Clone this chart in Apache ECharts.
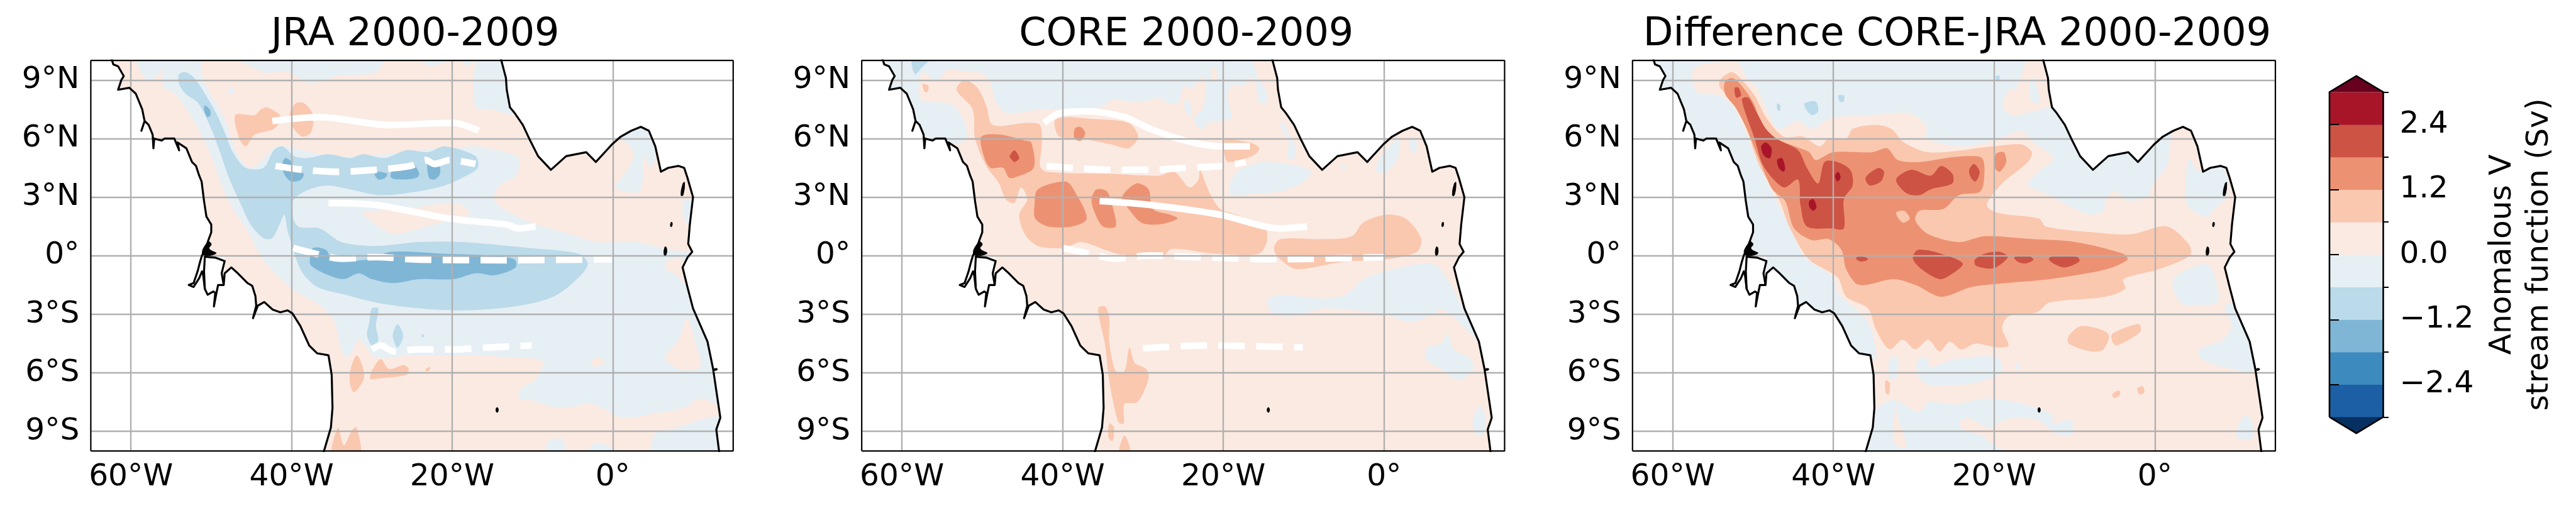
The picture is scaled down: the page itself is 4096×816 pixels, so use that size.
<!DOCTYPE html>
<html><head><meta charset="utf-8">
<style>html,body{margin:0;padding:0;background:#fff}#c{width:4096px;height:816px}</style>
<script src="https://cdn.jsdelivr.net/npm/echarts@6/dist/echarts.min.js"></script>
</head><body><div id="c"></div>
<script>
// Contour bands: value = lower bound of the band. Every shape: [band, lon,lat, lon,lat, ...]
const contourLevels=[-3,-2.4,-1.8,-1.2,-0.6,0,0.6,1.2,1.8,2.4,3];
const bandColors=['#1c5fa5','#3d8abe','#7fb6d6','#bbdaea','#e6eff4','#fbeae2','#fac8af','#ec9273','#cd5344','#a81529'];
const extendColors=['#053061','#67001f'];
const titles=['JRA 2000-2009','CORE 2000-2009','Difference CORE-JRA 2000-2009'];
const lonTicks=[-60,-40,-20,0];
const latTicks=[-9,-6,-3,0,3,6,9];
const cbarMajor=[-2.4,-1.2,0,1.2,2.4];
const cbarMinor=[-3,-1.8,-0.6,0.6,1.8,3];
const basin=[0,-70,-15,20,-15,20,15,-70,15];

const westCoast=[-62.5,10.2,-62.2,9.8,-61.6,9.7,-60.9,9.2,-61.2,9,-61.6,8.5,-60.2,8.6,-59.4,8.3,-58.6,7.5,-58.3,6.9,-58.7,6.4,-58.3,6.9,-57.8,6.7,-57.3,6.2,-57.2,5.5,-57.1,6,-56.2,5.9,-55.8,6,-54.6,6,-54,5.4,-54.2,5.8,-53.1,5.5,-52.4,4.8,-51.9,4.6,-51.5,4.1,-51.2,3.8,-50.9,2.8,-50.6,2,-50,1.6,-50,1.2,-50.4,.75,-50.8,.26,-51.15,.02,-51.4,-.32,-51.7,-.8,-52.2,-1.4,-52.8,-1.5,-52.2,-1.6,-51.5,-1.15,-51.15,-.8,-51,-1,-50.8,-1.7,-50.45,-2,-49.75,-1.83,-49.5,-1.9,-49.67,-2.6,-49.4,-2,-49.15,-1.5,-48.45,-1.5,-48.33,-.9,-47.5,-.6,-46.8,-.86,-45.5,-1.4,-44.9,-1.54,-44.5,-2.07,-44.4,-2.56,-44.8,-3.2,-44.2,-2.56,-43.4,-2.37,-42.35,-2.76,-41.4,-2.9,-40.5,-2.8,-39.9,-2.95,-38.9,-3.6,-37.8,-4.6,-36.8,-5,-35.4,-5.1,-35,-6.1,-34.9,-7.8,-35.1,-8.8,-36.1,-10.2];
const estuaryLine=[-48.45,-1.5,-48.7,-.9,-48.33,-.27,-49.5,-.1,-50.8,-.05,-50.9,-.8,-50.8,-1.7];
const estuaryFill=[-52.8,-1.5,-51.15,.1,-48.33,-.1,-48.33,-2.6,-50,-2.6];
const eastCoast=[-14,10.2,-13.3,9.1,-13.2,8.5,-12.8,7.6,-12.2,7.3,-11.2,6.7,-10.4,6,-9.3,5.1,-7.7,4.4,-5.8,5.1,-3.3,5.3,-2.1,4.8,-.1,5.7,1,6.1,2.3,6.4,3.5,6.6,4.5,6.4,5.3,5.6,6,4.3,6.9,4.5,8.2,4.6,8.9,4.5,9.3,4,10,3,9.6,1.6,9.4,.6,9.9,.2,9.3,-.1,8.7,-.6,9.3,-1.6,10,-2.7,11.8,-4.4,12.5,-5.8,13.4,-8.3,12.9,-8.9,13.3,-10.2];
const westLandClose=[-70,-10.2,-70,10.2];
const eastLandClose=[20,-10.2,20,10.2];
const islands=[[8.5,3.1,8.75,3.7,8.95,3.75,8.75,3.1],[7.2,1.5,7.35,1.5,7.4,1.7,7.25,1.7],[6.4,.05,6.65,.05,6.7,.4,6.5,.45],[-14.5,-7.8,-14.3,-7.8,-14.3,-8,-14.5,-8],[12.6,-5.8,13,-5.78,13,-5.85,12.6,-5.87],[-50.45,.7,-50,.6,-50.25,.36,-49.4,.12,-51.05,.07]];

const jraShapes=[basin,
[-0.6,-59.1,10.2,-51.3,10.2,-51.3,9.4,-50.5,8.6,-49.4,7.8,-48.3,7,-47.5,6,-46.5,5,-45.1,4.5,-43.5,5,-41.9,5.6,-40.3,5.6,-38.6,5.4,-34.9,5.1,-31.6,5.1,-28.4,5.2,-25.7,5.3,-22.5,5.5,-19.8,5.5,-17.1,5.6,-13.3,5.3,-11.7,5,-12,4.1,-14.1,3.6,-14.8,2.9,-13.3,2.3,-9.5,1.6,-5.2,1.1,-2,.7,2.9,.7,7.2,.3,9.6,.2,15.3,-.2,15.3,-7.8,10.9,-7.3,8.8,-7.8,5,-8.1,1.2,-8.3,-2.5,-7.6,-6.8,-7.8,-10.1,-7.4,-11.7,-7.3,-11.4,-6.8,-9.5,-6.3,-8.8,-5.4,-13.3,-5.2,-16.5,-5.1,-21.4,-5.1,-25.2,-5.1,-29.5,-5.2,-31.6,-4.3,-32.7,-5.1,-33.5,-5.1,-34.3,-3.9,-35,-3.1,-37,-2.4,-39.2,-1.9,-41.3,-1.2,-43.5,-.2,-45.7,1.4,-47.3,2.4,-48.9,3.8,-50,5.1,-51.6,6.5,-53.1,7.5,-54.5,8.3,-55.9,8.6,-56.2,9.6,-57,9.1,-58.3,9.1],
[-0.6,-46.7,10.2,-43.5,9.4,-40.3,9.4,-37.8,8.8,-34.3,9.2,-29.5,9.4,-28.7,10.2],
[-0.6,-24.1,10.2,-22.7,9.7,-19.8,10.2],
[-0.6,-19,10.2,-18.1,9.7,-17.1,10.2],
[-0.6,-16.8,10.2,-17.1,7.6,-15.2,7.5,-12.2,7.3,-12.8,9.1,-13.9,10.2],
[-0.6,1,6.2,4.7,6.5,5.3,5.1,4.7,4.5,3.9,5.1,3.4,3.3,.4,3.5,2,4.5,2.6,5.3],
[-0.6,8.8,2.8,9.9,2.8,9.6,1.6,8.8,1.9],
[-0.6,-47.5,8.7,-47.2,8.3,-47.9,8.3],
[-0.6,5,-10.2,5.3,-9.1,8.2,-8.8,10.9,-8.4,14.2,-8.3,14.2,-10.2],
[-0.6,-8.5,-10.2,-7.9,-9.5,-6.3,-9.4,-6,-10.2],
[-0.6,-3.1,-10.2,-2.3,-9.6,.2,-9.9,.2,-10.2],
[0,-31.1,2.2,-29.5,2.3,-24.1,2.5,-20.3,2.7,-18.4,2.5,-17.9,2.1,-20.3,1.8,-24.1,1.4,-27.3,1.1,-29.5,1.6],
[0,9.3,-3.2,10.4,-4.6,10.9,-5.7,8.2,-5.8,6.5,-5.2,8.2,-4.3],
[0,-2,-5.2,-1,-5.4,-2,-5.7,-2.7,-5.5],
[0,6.9,-.2,8.8,-.2,9.3,-1.6,8,-1,6.6,-.7],
[-1.2,-54,9.3,-53.2,9.4,-52.1,9.1,-50.5,8.1,-49.4,7.3,-48.3,6.3,-47.3,5.3,-45.7,4.5,-43.5,4.5,-42.2,5.4,-41.1,5.6,-39.7,5.1,-38.1,5,-35.4,5.2,-32.7,5,-31.1,5.2,-28.4,5,-25.7,5.4,-23,5.3,-20.9,5.6,-17.1,5.1,-16.8,4.5,-18.7,4,-20.9,3.6,-24.1,3.3,-28.9,3.1,-32.7,3.4,-35.4,3.6,-37.8,3.4,-39.7,2.9,-40,2.3,-39.2,1.5,-36.5,1.4,-33.8,.7,-29.5,.5,-24.1,.7,-18.7,.7,-10.6,.4,-4.2,.1,-3.1,-.4,-4.2,-1.1,-7.4,-2.1,-12.2,-2.6,-18.7,-2.8,-24.1,-2.7,-29.5,-2.4,-33.3,-2,-36.8,-1.6,-38.6,-.9,-39.5,-.1,-40,.6,-40.5,1.3,-40.9,2.1,-41.5,1.6,-42.4,.9,-43.5,.9,-45.1,1.6,-46.5,2.8,-47.8,4,-48.9,5.3,-50,6.5,-51.6,7.8,-53.2,8.3,-54,8.8],
[-1.2,-30,-2.7,-29.2,-2.7,-29.5,-3.6,-29.2,-4.3,-29.8,-4.7,-30.6,-4.1,-30.3,-3.4],
[-1.2,-26.8,-3.5,-26.1,-4.1,-26.8,-4.7,-27.4,-4.1],
[-1.2,-23.7,-4,-23.5,-4.1,-23.7,-4.2,-23.8,-4.1],
[-1.8,-50.8,7.7,-50.2,7.5,-50.1,7.2,-50.5,7.1,-50.9,7.5],
[-1.8,-40.8,5,-40,4.8,-39.7,4.4,-38.5,4.2,-38.8,3.9,-40,3.8,-40.8,4.1,-41.2,4.6],
[-1.8,-29.5,4.3,-28.1,4.2,-28.3,4,-29.1,3.9,-29.6,4.1],
[-1.8,-27.3,4.5,-24.9,4.7,-24.1,4.2,-24.4,4,-26.2,3.9,-27.6,4],
[-1.8,-23,4.8,-21.7,4.7,-21.5,4.2,-22.2,3.9,-22.9,4],
[-1.8,-37.7,-.1,-37.3,.4,-35.7,.3,-34.9,-.2,-30.6,-.2,-27.6,.2,-20.9,.1,-14.7,0,-12.2,-.2,-12.1,-.6,-14.7,-1,-17.1,-.9,-19.8,-1.2,-24.1,-1.2,-27.3,-1.4,-30,-1.2,-31.6,-.9,-33.5,-1.2,-35.4,-1,-37.6,-.5],
[0.6,-47,7.2,-44.6,7.2,-43.8,7.5,-43,7.6,-41.3,7.1,-42.2,6.5,-44.6,6.2,-45.7,5.6,-46.5,6],
[0.6,-40.3,7.1,-39.5,7.8,-38.4,7.8,-37.3,7.2,-37.6,6.3,-38.6,6.1,-39.7,6.5],
[0.6,-32.7,-6.6,-32.7,-5.9,-31.9,-5.1,-31.2,-5.6,-31,-6.3,-32.2,-7],
[0.6,-30,-5.9,-28.9,-5.3,-27.9,-5.8,-26,-5.6,-25.4,-5.8,-25.7,-6.1,-29.5,-6.3,-30.2,-6.3],
[0.6,-23.3,-5.8,-22.7,-5.7,-22.9,-5.9,-23.3,-5.9],
[0.6,-34.9,-10.2,-34.2,-8.8,-33.5,-9.7,-32.4,-8.9,-31.9,-8.8,-31.5,-10.2]];

const coreShapes=[basin,
[-0.6,-63.6,10.2,-17,10.2,-15.6,9,-14.7,8.5,-14.6,7.9,-15.1,7.8,-15.6,7.9,-16,8.85,-16.6,9.15,-17.1,8.95,-17.5,8.7,-18.9,8.75,-19.4,8.35,-19.4,7.9,-18.9,7.1,-19.1,7,-20.3,6.9,-21.9,6.8,-22.6,6.5,-23.4,6.7,-23.6,7.1,-22.6,7.5,-22.3,8.1,-22.3,9.1,-22.6,9.15,-23.2,8.95,-24,8.55,-24.9,8.7,-25.2,8.35,-25.5,7.9,-26.4,7.8,-27.1,7.85,-28,8.1,-29.9,7.9,-31.6,7.9,-33.7,8,-35.1,7.65,-38.2,7.5,-42.5,7.5,-46.8,7.3,-48.2,7.8,-49.5,9.2,-52.8,9.5,-54.4,9.5,-55.5,9,-56.3,9.1,-57.4,9.4,-57.9,8.8,-57.7,8,-56.3,7.9,-53.6,7.7,-52.2,6.8,-52,6,-53.3,5.7,-56,5.8,-63.6,5.8],
[0,-21.5,9.6,-21.1,9.6,-20.8,9.3,-20.9,9,-21.5,9.1],
[-0.6,-24.4,8,-24,7.5,-24.1,7.15,-24.8,7.5,-24.9,7.8],
[-0.6,-19.1,3.1,-19.1,3.8,-18,4.4,-15,4.8,-10.7,4.6,-9.1,4.3,-9.9,3.8,-12.9,3.3,-18.3,3.1],
[-0.6,-12.7,6.9,-12,6.4,-11,5.5,-11.2,5,-12,5,-11.9,5.9,-12.9,6.6],
[-0.6,-.8,4.8,1.7,6,1.9,5.3,.9,4.5,-.8,4.2],
[-0.6,3.3,6,4.1,5.8,3.8,5.2,3.2,5.5],
[-0.6,-5.3,4.7,-4.8,4.6,-4.9,4.4,-5.3,4.5],
[-0.6,-14.6,-2.3,-12.9,-2,-7.5,-2.2,-4.8,-2,-2.6,-1.2,.1,-.8,6,-.4,7.9,-1.2,9.8,-2.7,11.6,-4.3,9.8,-3.6,7.9,-2.9,6.8,-2.7,6.5,-2.9,3.3,-3.4,.1,-3,-7.5,-2.7,-11.3,-3.1,-13.7,-3],
[-0.6,7.9,-4,8.7,-4.8,10.8,-5.3,11.1,-5.8,9.8,-6.3,8.7,-6.3,7.1,-5.8,5.2,-5.3,5.4,-4.7,7.1,-4.5],
[-0.6,11.9,-7.7,12.7,-8.4,12.2,-9.2,11.4,-9.1,11,-8.5],
[-1.2,-58.7,10.2,-56.3,10.2,-57.6,9.6,-58.3,9.3,-58.7,9.6],
[0.6,-53.2,8.5,-52.2,9,-50.6,8.6,-49.5,7.7,-48.7,6.7,-44.4,6.8,-42.8,6.7,-42.6,5.6,-42.8,4.6,-42,4.3,-34.4,4.2,-28,4.1,-26.1,4.3,-24.2,3.5,-23.1,3.9,-22.9,4.4,-21.8,3.3,-20.4,2.4,-18.3,2.1,-14.8,1.4,-14.6,.7,-15.6,.1,-21,.1,-26.4,.35,-27.7,-.07,-32.3,.02,-34.7,.3,-37.7,.7,-39.8,.4,-43.1,.5,-44.7,1.1,-45.4,2.1,-44.4,2.9,-45.2,3.5,-46,2.7,-47.1,2.9,-47.9,3.7,-49.5,4.6,-50.9,6,-51.2,7.5],
[0.6,-41,6.9,-39.8,7.1,-36.1,7,-31.8,6.8,-30.6,6.1,-31.8,5.5,-33.9,5.7,-37.7,6,-40.4,6.1],
[0.6,-19.9,5.9,-16.7,5.8,-15.5,5.5,-16.4,5.1,-19.4,4.8,-19.9,5.3],
[0.6,-13.7,.4,-12.9,.85,-7.5,.85,-4,1,-2.6,1.7,.3,2.1,2.7,1.9,4.6,.9,4.1,.2,.05,-.2,-4.8,-.3,-9.6,-.65,-11.3,-.65,-13.2,-.07],
[0.6,-35.6,-2.7,-34.7,-2.6,-34.2,-3.2,-34.2,-4.4,-33.4,-5.9,-32.3,-5.9,-31.7,-4.7,-31,-5.5,-29.6,-5.8,-29.3,-6.3,-30.7,-7.5,-32.3,-7.6,-32.4,-8.6,-33.1,-8.5,-34.2,-6.4,-34.7,-4.6],
[0.6,-34.2,-8.6,-33.6,-8.8,-33.8,-9.5,-34.3,-9.3],
[0.6,-33,-10.2,-32.3,-9.2,-31.5,-10.2],
[0.6,-57.4,8.8,-56.7,8.7,-56.8,8.4,-57.2,8.4],
[1.2,-50.1,6.1,-47.7,6.2,-44.7,5.9,-43.9,5.8,-43.6,4.5,-46,4,-46.7,4,-47.4,4.5,-49,4.5,-49.8,5.1],
[1.2,-43.5,2.6,-43.1,3.4,-39.6,3.8,-38.5,3.3,-37,1.9,-38.8,1.5,-41.8,1.5,-43.4,1.9],
[1.2,-36.4,2.9,-35.8,3.4,-34.5,3.3,-33.7,2.4,-33.4,1.5,-35,1.5,-36.1,2.3],
[1.2,-32.6,3,-30.8,3.7,-29.3,3.4,-28.8,2.4,-26.6,2.1,-25.7,1.9,-28,1.6,-30.2,1.7,-31.8,2.4],
[1.2,-38.5,6.5,-37.8,6.6,-37.2,6.3,-37.7,5.9,-38.5,6],
[1.8,-46.6,5.1,-46,5.4,-45.4,5,-46,4.8,-46.5,5]];

const diffShapes=[basin,
[-0.6,-63.8,10.2,-16.6,10.2,-17.2,8.6,-18.2,8.5,-18.9,7.6,-17.7,7.2,-15,7.4,-12.6,7.6,-7.7,6.5,2,6.5,2,6,1.5,4.6,-.4,3.6,-.7,3.1,-3.4,2.8,-5,3.3,-6.1,2.9,-6.4,2.3,-8,2.1,-10.9,2.6,-13.1,3.1,-15.8,3.6,-18.5,4.8,-29.3,1.4,-34.7,-5.2,-40,-5.3,-63.8,3.1],
[0,-57.6,9.3,-57,9.7,-54.6,9.9,-51.9,9.9,-50.8,9.1,-49.5,8.6,-48.4,7.6,-46.9,6.5,-44.4,6.9,-42.7,6.5,-40.6,7,-39.8,7.1,-35.2,7.2,-30.6,7.3,-28.5,6.7,-28.3,6,-23.9,5.6,-20.1,5.9,-16.6,6.4,-15,5.8,-12.6,5,-14.4,4.3,-15.8,3.6,-13.1,3.1,-10.9,2.6,-8,2.1,-6.4,2.3,-6.1,2.9,-5,3.3,-3.4,2.8,-.7,3.1,-.4,3.6,1.5,4.6,2.5,6.1,15.5,6.1,15.5,-10.2,-35.2,-10.2,-34.7,-5.2,-35.7,-3.4,-39.5,-1.9,-40,-1.1,-43.6,-.07,-45.4,1.4,-47.1,2.8,-49.8,5.1,-51.1,6.5,-52.4,7.6,-54.1,8.2,-57,8.4],
[-0.6,-15.5,9,-15,9.1,-14.4,7.8,-15.5,8],
[-0.6,4.2,5,5.5,4.3,8.5,4.5,9.1,3.1,7.4,2.4,6.6,2,4.7,2.3,3.9,2.8],
[-0.6,2.3,-1.2,5.2,-.5,6.7,-.5,7.7,-1.4,7.7,-2.4,3.6,-2.5,2.5,-1.9],
[-0.6,8.7,-2.6,9.8,-2.4,12,-4.4,12.2,-5.9,9.5,-5.8,5.8,-5.3,5.5,-4.8,8.5,-4.3,9.5,-3.6],
[-0.6,10.3,-8.8,11.2,-8.2,12,-8.4,12.2,-9.3,10.3,-9.4],
[-0.6,-29.5,-5.3,-28.5,-5.2,-27.9,-5.7,-25,-5.3,-19.6,-5.2,-19,-5.9,-20.6,-6.3,-23.9,-6.6,-28.2,-6.6,-29.5,-6.1],
[-0.6,-33,-5.3,-32,-5.2,-32.2,-6.3,-33,-6.3],
[-0.6,-17.4,-5.5,-16.9,-5.5,-16.8,-5.8,-17.3,-5.8],
[-0.6,-36,-10.2,-34.7,-7.9,-32.5,-7.4,-29.3,-8,-28.2,-7.5,-25,-7.6,-20.7,-7.3,-15.3,-7.7,-12.6,-8.2,-12.8,-8.6,-10.4,-8.4,-10.4,-9.2,-12.3,-9.1,-14.7,-8.4,-18.5,-8.4,-21.2,-9.3,-18.2,-10.2],
[0,-24.4,-8.6,-23.3,-8.3,-20.6,-8.8,-18.5,-8.4,-16.1,-8.6,-15.3,-9,-19.6,-9.3,-23.9,-8.9],
[0,-32.2,-7.6,-31.9,-8.4,-30.9,-9.8,-32.5,-9.6],
[-1.2,-43.6,7.8,-42.2,7.9,-41.9,7.4,-42.7,7.2,-43.4,7.5],
[-1.2,-39.4,8.2,-38.7,8.2,-38.7,7.9,-39.2,7.9],
[-1.2,-47,7.8,-46.6,7.7,-46.7,7.4,-47,7.5],
[-1.2,-19.8,9.2,-19.3,9.2,-19.5,8.9,-19.7,9],
[0.6,-54.1,9,-52.7,9.4,-51.6,9.1,-49.8,8.2,-48.4,7.1,-46.2,6.1,-43.8,6.1,-41.7,5.6,-40.6,6,-38.4,6,-37.6,6.5,-34.7,6.7,-32.8,6.5,-31.2,5.8,-28.2,5.3,-23.9,5.4,-22.3,5.5,-20.1,5.6,-16.6,5.7,-15.3,5.3,-15.8,4.8,-19,3.7,-20.9,2.6,-19.6,2.2,-14.4,1.9,-13.6,1.5,-7.7,1.2,-2.9,1.1,1.5,1.5,4.2,.6,4.4,.02,.4,-.7,-3.9,-1.2,-3.7,-1.7,-6.1,-2.1,-13.1,-2.4,-14.7,-2.9,-18.2,-3.1,-19,-3.7,-18.2,-4.6,-19.6,-4.7,-22.3,-4.5,-24.1,-4.8,-25.5,-4.4,-26.8,-4.9,-28.2,-4.3,-29.8,-4.8,-31.4,-4.3,-33,-4.8,-34.7,-3.8,-35.7,-2.7,-38.4,-2.1,-39.5,-1.1,-43,-.2,-45.4,1.4,-46.8,2.9,-49.2,4.6,-50.8,6.5,-52.4,8,-54.1,8.6],
[0.6,-10.7,-4.1,-9.1,-3.6,-5.8,-4,-6.4,-4.8,-8,-4.9,-10.7,-4.5],
[0.6,-5.3,-4,-2,-3.5,-1.8,-3.9,-4.7,-4.6,-5.3,-4.4],
[0.6,-5.3,-7.1,-4.5,-6.9,-4.3,-7.1,-5,-7.3],
[0.6,-2.2,-6.8,-1.5,-6.7,-1.3,-7,-1.9,-7.1],
[0.6,-33.5,-6.4,-33,-6.5,-33.1,-7.1,-33.5,-7],
[1.2,-53.5,8.9,-52.6,9.1,-51.6,8.8,-49.9,7.8,-49,6.8,-47.1,6,-44.1,5.5,-43,5.3,-42.2,4.9,-40.1,5.3,-35.2,5.3,-33.3,5.5,-32,4.9,-29.3,4.8,-26,5,-23.1,5.1,-21.5,5,-21.2,4.3,-21.7,3.3,-24.4,3.1,-26.3,2.4,-29.3,2.3,-29.8,1.8,-28.2,1.1,-24.4,.7,-21.2,1,-15.3,.85,-9.9,.7,-3.9,.1,-3.4,-.2,-6.1,-.7,-13.1,-1.2,-18.5,-1.4,-22.8,-1.6,-26.6,-2.1,-29.8,-1.5,-32.5,-1.2,-36.8,-1.5,-38.4,-.7,-39,.3,-40.6,.85,-42.7,.8,-44.9,1.4,-46,2.8,-47.6,3.4,-48.9,4.6,-50.8,6.5,-52.2,7.6,-53.5,8.3],
[1.2,-19.8,5.2,-18.8,5.3,-18.5,4.8,-19.3,4.3,-19.9,4.5],
[0.6,-32.2,2.2,-31.2,2.3,-30.5,1.9,-31.4,1.7],
[1.8,-52.3,8.6,-51.8,8.6,-51.5,8.2,-52.1,8.1],
[1.8,-51.4,8,-50.6,8.1,-49.5,7.3,-48.4,6.5,-47.1,6,-44.4,5.4,-43.3,4.5,-41.9,3.7,-41.1,4.8,-39.5,4.8,-37.9,4.4,-37.6,3.6,-38.7,2.9,-38.7,1.4,-40.3,1.4,-43.3,1.5,-44.1,2.6,-44.4,3.9,-46.2,3.5,-48.7,4.6,-49.8,6],
[1.8,-36,4,-34.4,4.5,-33.7,4.3,-34.1,3.8,-35.5,3.6],
[1.8,-32.2,3.9,-30.3,4.4,-27.9,4.1,-26.6,4.6,-25.2,4.2,-25.2,3.7,-27.9,3.4,-29.3,3.1,-30.9,3.2],
[1.8,-23.1,4.4,-22.5,4.7,-21.8,4.3,-22.3,3.8,-22.9,4],
[1.8,-30.1,-.15,-29.5,.3,-26.6,.1,-23.9,-.4,-25.5,-1,-26.8,-1.2,-29,-.7],
[1.8,-37.1,-.07,-36,-.07,-35.7,-.2,-36.5,-.3,-37.1,-.2],
[1.8,-22.4,-.2,-21.2,.1,-19.3,.2,-18.3,-.07,-19.8,-.6,-20.9,-.65,-22.3,-.5],
[1.8,-17.5,-.07,-15.8,.02,-15.1,-.2,-16.1,-.4,-17.1,-.3],
[1.8,-13.2,-.15,-12.3,.02,-9.6,-.07,-9.4,-.3,-11.2,-.6,-12.6,-.4],
[2.4,-49,5.6,-48.4,5.8,-47.7,5.5,-47.9,5,-48.6,5.1],
[2.4,-47,4.9,-46.4,5,-46,4.5,-46.2,4.3,-46.8,4.5],
[2.4,-39.8,4.1,-39.4,4.3,-39.1,4,-39.5,3.8],
[2.4,-43,2.8,-42.5,2.9,-42.1,2.5,-42.5,2.3,-43,2.5]];

// Mean streamlines (white): solid, dashed
const jraSolid=[[-42.4,6.9,-36.5,7.1,-27.9,6.7,-19.8,6.8,-16.7,6.4],[-35.4,2.7,-29.5,2.6,-20.3,1.9,-13.3,1.6,-11.7,1.4,-9.6,1.5]];
const jraDashed=[[-42,4.6,-38.6,4.4,-34.3,4.3,-29.5,4.4,-25.2,4.6,-23.3,4.9,-22.2,4.7,-20.3,4.9,-17.1,4.7],[-39.8,.4,-37,.1,-33.8,-.15,-29.5,-.07,-24.1,-.2,-13.3,-.23,-.1,-.18],[-30,-4.8,-28.9,-4.6,-27.3,-4.9,-24.1,-4.8,-19.8,-4.8,-15.5,-4.7,-10.1,-4.6]];
const coreSolid=[[-42.3,6.8,-40.4,7.3,-37.1,7.4,-32.3,7.1,-29.1,6.5,-24.8,5.9,-20.4,5.6,-16.7,5.6],[-35.4,2.8,-29.1,2.6,-20.4,2.1,-12.9,1.4,-9.6,1.5]];
const coreDashed=[[-42,4.6,-38.8,4.5,-34.4,4.4,-29.1,4.4,-24.8,4.5,-19.9,4.6,-17.2,4.8],[-40,.4,-36.6,.1,-33.4,-.15,-29.1,.02,-23.7,-.07,-12.9,-.18,.05,-.07],[-30,-4.75,-26.9,-4.67,-22,-4.6,-10.1,-4.7]];

const FONT='"DejaVu Sans"';
const TICK=48.6, TITLE=62;
const panels=[
 {shapes:jraShapes,solid:jraSolid,dashed:jraDashed,left:144.4,right:1165.8},
 {shapes:coreShapes,solid:coreSolid,dashed:coreDashed,left:1370.2,right:2392.4},
 {shapes:diffShapes,solid:[],dashed:[],left:2595.8,right:3618}];
const TOP=96.2,BOTTOM=717.3;
const pairs=f=>{const o=[];for(let i=0;i+1<f.length;i+=2)o.push([f[i],f[i+1]]);return o;};
const bandColor=v=>bandColors[Math.round((v+3)/0.6)];

const option={animation:false,backgroundColor:'#fff',title:[],grid:[],xAxis:[],yAxis:[],series:[]};
panels.forEach((p,i)=>{
 option.grid.push({left:p.left,top:TOP,width:p.right-p.left,height:BOTTOM-TOP,containLabel:false});
 option.title.push({text:titles[i],left:(p.left+p.right)/2,top:20,textAlign:'center',textStyle:{fontFamily:FONT,fontSize:TITLE,fontWeight:'normal',color:'#000'}});
 const grid={lineStyle:{color:'#b0b0b0',width:2.4}};
 option.xAxis.push({type:'value',gridIndex:i,min:-65,max:15,z:6,axisLine:{show:false},
   axisTick:{show:false,customValues:lonTicks},splitLine:{show:true,...grid},
   axisLabel:{customValues:lonTicks,margin:18,fontFamily:FONT,fontSize:TICK,color:'#000',formatter:v=>v===0?'0°':(-v)+'°W'}});
 option.yAxis.push({type:'value',gridIndex:i,min:-10,max:10,z:6,axisLine:{show:false},
   axisTick:{show:false,customValues:latTicks},splitLine:{show:true,...grid},
   axisLabel:{customValues:latTicks,margin:18,padding:[5,0,0,0],fontFamily:FONT,fontSize:TICK,color:'#000',formatter:v=>v===0?'0°':(v>0?v+'°N':(-v)+'°S')}});
 const ax={xAxisIndex:i,yAxisIndex:i};
 option.series.push({type:'custom',...ax,coordinateSystem:'cartesian2d',clip:true,silent:true,z:2,
   data:p.shapes.map((_,k)=>[k]),
   renderItem:(params,api)=>{const s=p.shapes[params.dataIndex];
     return {type:'polygon',shape:{points:pairs(s.slice(1)).map(c=>api.coord(c)),smooth:s===basin?0:0.3},style:{fill:bandColor(s[0]),stroke:null}};}});
 p.solid.forEach(l=>option.series.push({type:'line',...ax,data:pairs(l),showSymbol:false,silent:true,smooth:0.3,z:3,lineStyle:{color:'#fff',width:10.5,cap:'butt'}}));
 p.dashed.forEach(l=>option.series.push({type:'line',...ax,data:pairs(l),showSymbol:false,silent:true,smooth:0.3,z:3,lineStyle:{color:'#fff',width:10.5,type:[42,18],cap:'butt'}}));
 const lands=[westCoast.concat(westLandClose),eastCoast.concat(eastLandClose),estuaryFill];
 option.series.push({type:'custom',...ax,coordinateSystem:'cartesian2d',clip:true,silent:true,z:4,
   data:lands.map((_,k)=>[k]),
   renderItem:(params,api)=>({type:'polygon',shape:{points:pairs(lands[params.dataIndex]).map(c=>api.coord(c))},style:{fill:'#fff',stroke:null}})});
 [westCoast,eastCoast,estuaryLine].forEach(l=>option.series.push({type:'line',...ax,data:pairs(l),showSymbol:false,silent:true,z:7,lineStyle:{color:'#000',width:3.2,join:'round'}}));
 option.series.push({type:'custom',...ax,coordinateSystem:'cartesian2d',clip:true,silent:true,z:7,
   data:islands.map((_,k)=>[k]),
   renderItem:(params,api)=>({type:'polygon',shape:{points:pairs(islands[params.dataIndex]).map(c=>api.coord(c)),smooth:0.5},style:{fill:'#000',stroke:'#000',lineWidth:1}})});
 option.series.push({type:'line',...ax,data:[[-65,-10],[15,-10],[15,10],[-65,10],[-65,-10]],showSymbol:false,silent:true,clip:false,z:8,lineStyle:{color:'#000',width:2.2}});
});
// Colour bar
const ci=3;
option.grid.push({left:3704,top:146.5,width:85.5,height:516.8});
option.xAxis.push({type:'value',gridIndex:ci,min:0,max:1,show:false,splitLine:{show:false}});
option.yAxis.push({type:'value',gridIndex:ci,min:-3,max:3,position:'right',z:6,splitLine:{show:false},axisLine:{show:false},
  axisTick:{show:true,customValues:cbarMajor,length:15,lineStyle:{color:'#000',width:2}},
  axisLabel:{customValues:cbarMajor,margin:26,padding:[3,0,0,0],fontFamily:FONT,fontSize:TICK,color:'#000',formatter:v=>v.toFixed(1).replace('-','\u2212')},
  name:'Anomalous V\nstream function (Sv)',nameLocation:'middle',nameRotate:90,nameGap:160,
  nameTextStyle:{fontFamily:FONT,fontSize:TICK,color:'#000',lineHeight:59,align:'center'}});
option.yAxis.push({type:'value',gridIndex:ci,min:-3,max:3,position:'right',z:6,splitLine:{show:false},axisLine:{show:false},
  axisTick:{show:true,customValues:cbarMinor,length:8.5,lineStyle:{color:'#000',width:2}},axisLabel:{show:false}});
option.series.push({type:'custom',xAxisIndex:ci,yAxisIndex:ci,coordinateSystem:'cartesian2d',clip:false,silent:true,z:2,
  data:bandColors.map((_,k)=>[k]),
  renderItem:(params,api)=>{const k=params.dataIndex,a=api.coord([0,contourLevels[k]]),b=api.coord([1,contourLevels[k+1]]);
    return {type:'rect',shape:{x:a[0],y:b[1],width:b[0]-a[0],height:a[1]-b[1]+0.5},style:{fill:bandColors[k],stroke:null}};}});
const extendShapes=[[0,-3,1,-3,.5,-3.3],[0,3,1,3,.5,3.3]];
option.series.push({type:'custom',xAxisIndex:ci,yAxisIndex:ci,coordinateSystem:'cartesian2d',clip:false,silent:true,z:2,
  data:extendShapes.map((_,k)=>[k]),
  renderItem:(params,api)=>({type:'polygon',shape:{points:pairs(extendShapes[params.dataIndex]).map(c=>api.coord(c))},style:{fill:extendColors[params.dataIndex],stroke:null}})});
option.series.push({type:'line',xAxisIndex:ci,yAxisIndex:ci,data:[[0,-3],[.5,-3.3],[1,-3],[1,3],[.5,3.3],[0,3],[0,-3]],showSymbol:false,silent:true,clip:false,z:5,lineStyle:{color:'#000',width:2.6,join:'miter'}});
echarts.init(document.getElementById('c'),null,{renderer:'canvas'}).setOption(option);
</script></body></html>
